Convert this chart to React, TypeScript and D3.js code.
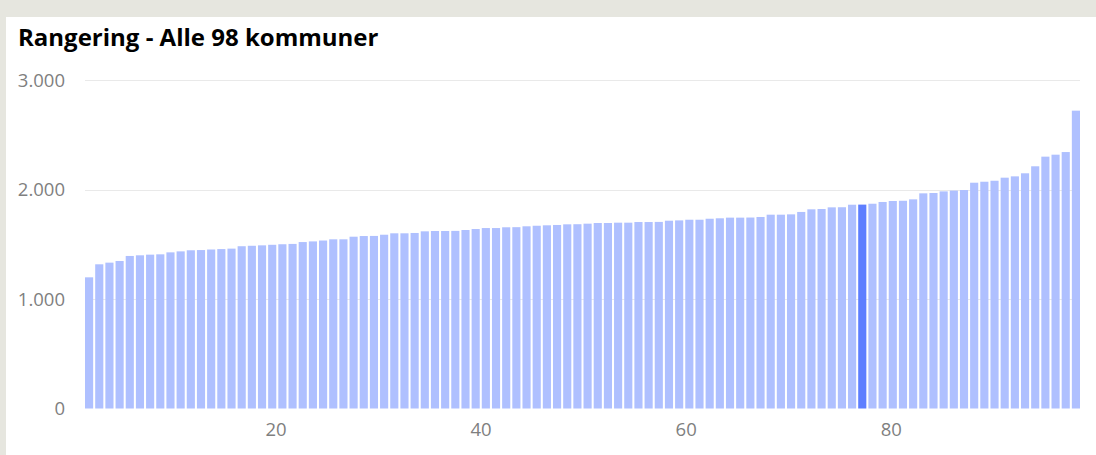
import React from "react";
import * as d3 from "d3";

const title = "Rangering - Alle 98 kommuner";
const values: number[] = [
  1198, 1317, 1332, 1347, 1393, 1399, 1405, 1408, 1426, 1435,
  1445, 1447, 1452, 1456, 1460, 1482, 1486, 1490, 1495, 1500,
  1503, 1520, 1526, 1534, 1545, 1545, 1569, 1575, 1576, 1587,
  1600, 1600, 1603, 1618, 1621, 1621, 1622, 1630, 1639, 1648,
  1648, 1655, 1656, 1664, 1669, 1673, 1676, 1682, 1683, 1688,
  1694, 1694, 1697, 1697, 1703, 1703, 1704, 1715, 1718, 1724,
  1724, 1733, 1737, 1743, 1743, 1744, 1749, 1770, 1770, 1773,
  1795, 1819, 1822, 1837, 1838, 1861, 1862, 1870, 1886, 1895,
  1897, 1910, 1965, 1968, 1983, 1990, 1995, 2062, 2071, 2080,
  2108, 2120, 2148, 2212, 2300, 2318, 2342, 2720,
];
const ranks: number[] = values.map((_, i) => i + 1);
const highlightRank = 77;
const yTicks: number[] = [0, 1000, 2000, 3000];
const xTicks: number[] = [20, 40, 60, 80];

const W = 1096;
const H = 455;
const FONT = "'Segoe UI', 'Open Sans', 'Noto Sans', sans-serif";

const fmt = (v: number) => (v === 0 ? "0" : d3.format(",")(v).replace(/,/g, "."));

export default function App() {
  const x = d3
    .scaleBand<number>()
    .domain(ranks)
    .range([84, 1081])
    .paddingInner(0.2)
    .paddingOuter(0.1);
  const xAxis = d3.scaleLinear().domain([0.5, 98.5]).range([76, 1081]);
  const y = d3.scaleLinear().domain([0, 3000]).range([408.5, 80]);

  return (
    <svg
      width={W}
      height={H}
      style={{ position: "absolute", left: 0, top: 0, display: "block" }}
    >
      <rect x={0} y={0} width={W} height={H} fill="#e6e6df" />
      <rect x={6} y={17} width={W - 6} height={H - 17} fill="#ffffff" />
      <text
        x={18}
        y={46}
        fontFamily={FONT}
        fontWeight={700}
        fontSize={24}
        fill="#000"
      >
        {title}
      </text>
      {yTicks.map((t) => (
        <g key={t}>
          {t > 0 && (
            <line
              x1={85}
              x2={1080}
              y1={Math.round(y(t)) + 0.5}
              y2={Math.round(y(t)) + 0.5}
              stroke="#e9e9e9"
              strokeWidth={1}
            />
          )}
          <text
            x={65}
            y={y(t)}
            dy="0.36em"
            textAnchor="end"
            fontFamily={FONT}
            fontSize={18.5}
            fill="#7f7f7f"
          >
            {fmt(t)}
          </text>
        </g>
      ))}
      {values.map((v, i) => (
        <rect
          key={i}
          x={x(ranks[i])}
          y={y(v)}
          width={x.bandwidth()}
          height={y(0) - y(v)}
          fill={ranks[i] === highlightRank ? "#5e7eff" : "#afc0ff"}
        />
      ))}
      {xTicks.map((t) => (
        <text
          key={t}
          x={xAxis(t)}
          y={436}
          textAnchor="middle"
          fontFamily={FONT}
          fontSize={18.5}
          fill="#7f7f7f"
        >
          {t}
        </text>
      ))}
    </svg>
  );
}
